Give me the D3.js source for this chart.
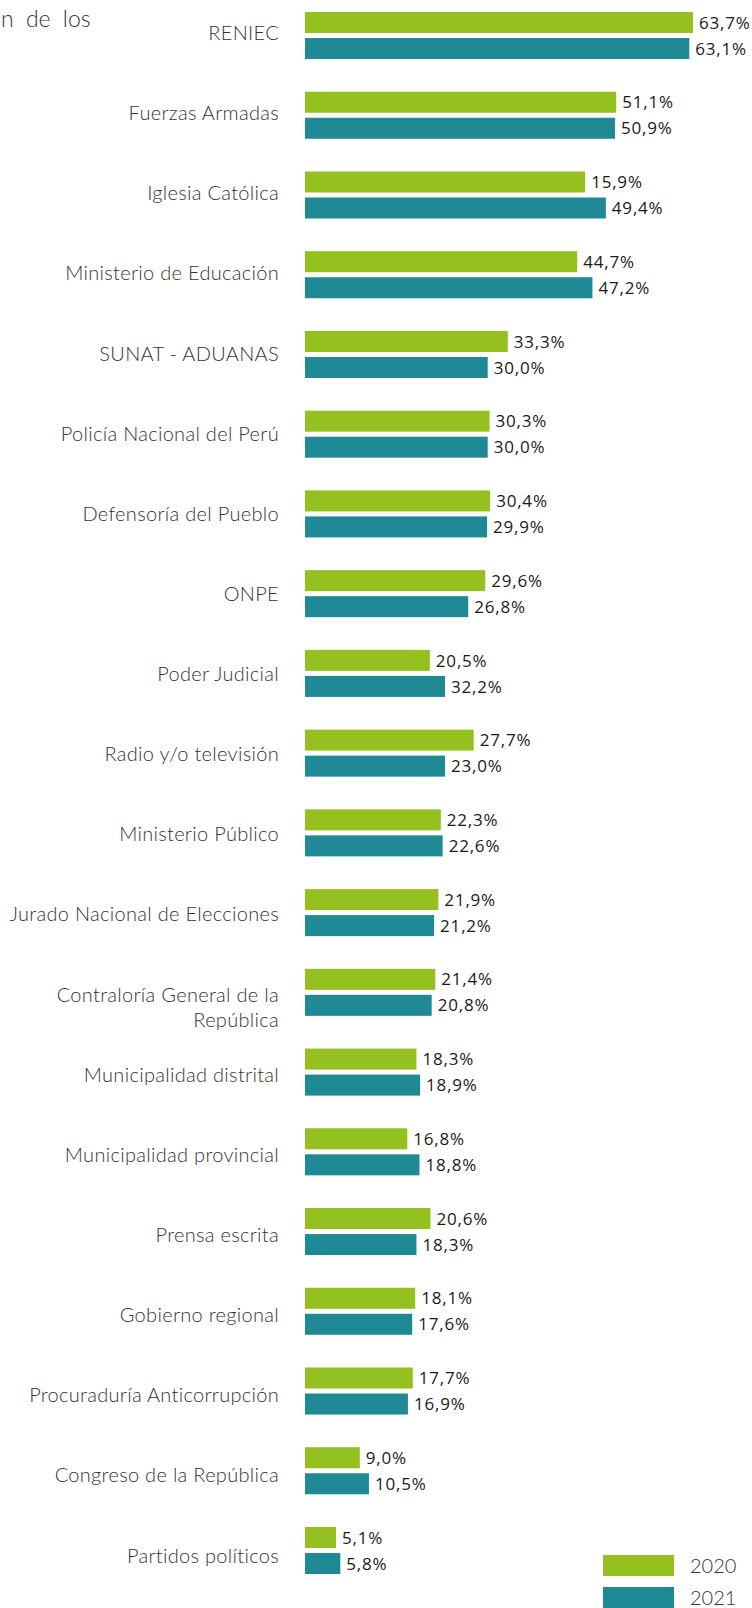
<!DOCTYPE html>
<html>
<head>
<meta charset="utf-8">
<script src="https://cdn.jsdelivr.net/npm/d3@7"></script>
<style>
  html, body { margin: 0; padding: 0; background: #ffffff; overflow: hidden; }
  svg { display: block; }
</style>
</head>
<body>
<svg id="chart" width="752" height="1608"></svg>
<script>
// ---- Data ----
const categories = [
  "RENIEC",
  "Fuerzas Armadas",
  "Iglesia Católica",
  "Ministerio de Educación",
  "SUNAT - ADUANAS",
  "Policía Nacional del Perú",
  "Defensoría del Pueblo",
  "ONPE",
  "Poder Judicial",
  "Radio y/o televisión",
  "Ministerio Público",
  "Jurado Nacional de Elecciones",
  "Contraloría General de la|República",
  "Municipalidad distrital",
  "Municipalidad provincial",
  "Prensa escrita",
  "Gobierno regional",
  "Procuraduría Anticorrupción",
  "Congreso de la República",
  "Partidos políticos"
];
const seriesNames = ["2020", "2021"];
// bar lengths as drawn in the picture (%)
const values2020 = [63.7, 51.1, 46.0, 44.7, 33.3, 30.3, 30.4, 29.6, 20.5, 27.7,
                    22.3, 21.9, 21.4, 18.3, 16.8, 20.6, 18.1, 17.7, 9.0, 5.1];
const values2021 = [63.1, 50.9, 49.4, 47.2, 30.0, 30.0, 29.9, 26.8, 23.0, 23.0,
                    22.6, 21.2, 20.8, 18.9, 18.8, 18.3, 17.6, 16.9, 10.5, 5.8];
// value labels as printed in the picture
const labels2020 = ["63,7%", "51,1%", "15,9%", "44,7%", "33,3%", "30,3%", "30,4%", "29,6%", "20,5%", "27,7%",
                    "22,3%", "21,9%", "21,4%", "18,3%", "16,8%", "20,6%", "18,1%", "17,7%", "9,0%", "5,1%"];
const labels2021 = ["63,1%", "50,9%", "49,4%", "47,2%", "30,0%", "30,0%", "29,9%", "26,8%", "32,2%", "23,0%",
                    "22,6%", "21,2%", "20,8%", "18,9%", "18,8%", "18,3%", "17,6%", "16,9%", "10,5%", "5,8%"];
const colors = ["#94c11f", "#1f8a96"];

// ---- Chart ----
const svg = d3.select("#chart");

const y = d3.scaleBand()
  .domain(categories)
  .range([12, 1574])
  .paddingInner(0.41)
  .paddingOuter(0);

// category label centres (the labels sit on their own slightly wider grid)
const yLabel = d3.scalePoint()
  .domain(categories)
  .range([33, 1555.5]);

const ySub = d3.scaleBand()
  .domain(seriesNames)
  .range([0, y.bandwidth()])
  .paddingInner(0.1923);

const x = d3.scaleLinear().domain([0, 100]).range([305, 914]);

const rows = categories.map((c, i) => ({
  cat: c,
  vals: [
    { s: "2020", v: values2020[i], lab: labels2020[i] },
    { s: "2021", v: values2021[i], lab: labels2021[i] }
  ]
}));

// title fragment at top-left
svg.append("text")
  .attr("x", 1)
  .attr("y", 27)
  .attr("font-family", "Lato, sans-serif")
  .attr("font-weight", 300)
  .attr("font-size", 23)
  .attr("fill", "#333")
  .attr("word-spacing", 6)
  .text("n de los");

const g = svg.selectAll("g.row")
  .data(rows)
  .join("g")
  .attr("class", "row")
  .attr("transform", d => `translate(0,${y(d.cat)})`);

g.selectAll("rect")
  .data(d => d.vals)
  .join("rect")
  .attr("x", x(0))
  .attr("y", d => ySub(d.s))
  .attr("width", d => x(d.v) - x(0))
  .attr("height", ySub.bandwidth())
  .attr("fill", (d, i) => colors[i]);

g.selectAll("text.val")
  .data(d => d.vals)
  .join("text")
  .attr("class", "val")
  .attr("x", d => x(d.v) + 6)
  .attr("y", d => ySub(d.s) + ySub.bandwidth() / 2)
  .attr("dy", "0.36em")
  .attr("font-family", "'Open Sans', sans-serif")
  .attr("font-size", 17)
  .attr("letter-spacing", 0.8)
  .attr("fill", "#1a1a1a")
  .text(d => d.lab);

// category labels
const catG = svg.append("g").attr("class", "cats");
rows.forEach(d => {
  const lines = d.cat.split("|");
  const c = yLabel(d.cat);
  const t = catG.append("text")
    .attr("class", "cat")
    .attr("x", 279)
    .attr("text-anchor", "end")
    .attr("font-family", "Lato, sans-serif")
    .attr("font-weight", 300)
    .attr("font-size", 20)
    .attr("letter-spacing", 0.3)
    .attr("fill", "#333");
  if (lines.length === 1) {
    t.append("tspan").attr("x", 279).attr("y", c + 7).text(lines[0]);
  } else {
    lines.forEach((l, k) => {
      t.append("tspan").attr("x", 279).attr("y", c + 7.5 + k * 24.5).text(l);
    });
  }
});

// legend
const legend = svg.append("g").attr("class", "legend");
const legY = [1555, 1587];
seriesNames.forEach((s, i) => {
  legend.append("rect")
    .attr("x", 603).attr("y", legY[i])
    .attr("width", 71).attr("height", 21)
    .attr("fill", colors[i]);
  legend.append("text")
    .attr("x", 690).attr("y", legY[i] + 18)
    .attr("font-family", "Lato, sans-serif")
    .attr("font-weight", 300)
    .attr("font-size", 20)
    .attr("fill", "#333")
    .text(s);
});
</script>
</body>
</html>
